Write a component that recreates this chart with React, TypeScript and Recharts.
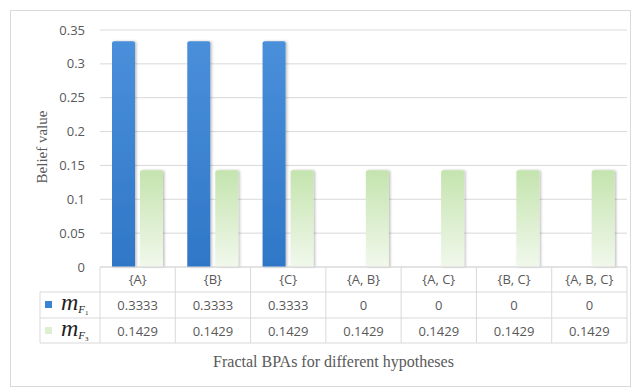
import { BarChart, Bar, XAxis, YAxis, CartesianGrid, Label } from 'recharts';

const hypotheses = ['{A}', '{B}', '{C}', '{A, B}', '{A, C}', '{B, C}', '{A, B, C}'];
const mF1 = [0.3333, 0.3333, 0.3333, 0, 0, 0, 0];
const mF3 = [0.1429, 0.1429, 0.1429, 0.1429, 0.1429, 0.1429, 0.1429];
const yTicks = [0, 0.05, 0.1, 0.15, 0.2, 0.25, 0.3, 0.35];

const data = hypotheses.map((h, i) => ({ name: h, f1: mF1[i], f3: mF3[i] }));

// plot geometry, used by the data table drawn under the axis
const PLOT_LEFT = 100;
const PLOT_RIGHT = 627;
const PLOT_BOTTOM = 267;
const BAND = (PLOT_RIGHT - PLOT_LEFT) / hypotheses.length;
const ROW1 = 292;
const ROW2 = 318;
const ROW3 = 343;
const TABLE_LEFT = 40;
const LINE = '#d9d9d9';
const TEXT = '#595959';
const SANS = '"Open Sans", sans-serif';
const SERIF = '"Liberation Serif", "Times New Roman", serif';

function SeriesName({ y, sub }: { y: number; sub: string }) {
  return (
    <text x={61} y={y} fill="#222" fontFamily={SERIF} fontStyle="italic">
      <tspan fontSize={24}>m</tspan>
      <tspan fontSize={11} dy={3}>F</tspan>
      <tspan fontSize={7} fontStyle="normal" dy={2}>{sub}</tspan>
    </text>
  );
}

function TableTick(props: any) {
  const { x, payload, index } = props;
  const left = x - BAND / 2;
  const right = x + BAND / 2;
  const fmt = (v: number) => String(v);
  return (
    <g>
      {index === 0 && (
        <g>
          <line x1={left} x2={left} y1={PLOT_BOTTOM} y2={ROW3} stroke={LINE} />
          <line x1={TABLE_LEFT} x2={TABLE_LEFT} y1={ROW1} y2={ROW3} stroke={LINE} />
          <line x1={TABLE_LEFT} x2={PLOT_RIGHT} y1={ROW1} y2={ROW1} stroke={LINE} />
          <line x1={TABLE_LEFT} x2={PLOT_RIGHT} y1={ROW2} y2={ROW2} stroke={LINE} />
          <line x1={TABLE_LEFT} x2={PLOT_RIGHT} y1={ROW3} y2={ROW3} stroke={LINE} />
          <rect x={45} y={301} width={7} height={7} fill="#3a82d2" />
          <rect x={45} y={327} width={7} height={7} fill="#dcefd0" />
          <SeriesName y={310} sub="1" />
          <SeriesName y={336} sub="3" />
        </g>
      )}
      <line x1={right} x2={right} y1={PLOT_BOTTOM} y2={ROW3} stroke={LINE} />
      <g fontFamily={SANS} fontSize={13} fill={TEXT} textAnchor="middle">
        <text x={x} y={284}>{payload.value}</text>
        <text x={x} y={310}>{fmt(mF1[index])}</text>
        <text x={x} y={336}>{fmt(mF3[index])}</text>
      </g>
    </g>
  );
}

export default function App() {
  return (
    <div style={{ position: 'absolute', left: 0, top: 0, width: 643, height: 390, background: '#fff' }}>
      <div
        style={{
          position: 'absolute',
          left: 10,
          top: 10,
          width: 621,
          height: 377,
          border: `1px solid ${LINE}`,
          boxSizing: 'border-box',
        }}
      />
      <BarChart
        width={643}
        height={390}
        data={data}
        margin={{ top: 30, right: 16, bottom: 10, left: 10 }}
        barSize={23}
        barGap={5}
        style={{ position: 'absolute', left: 0, top: 0 }}
      >
        <defs>
          <linearGradient id="blueFill" x1="0" y1="0" x2="0" y2="1">
            <stop offset="0%" stopColor="#4a8fda" />
            <stop offset="100%" stopColor="#2f77c7" />
          </linearGradient>
          <linearGradient id="greenFill" x1="0" y1="0" x2="0" y2="1">
            <stop offset="0%" stopColor="#c4e4ae" />
            <stop offset="100%" stopColor="#f1f8ec" />
          </linearGradient>
          <filter id="barShadow" x="-20%" y="-5%" width="150%" height="110%">
            <feDropShadow dx={1.5} dy={0} stdDeviation={1} floodColor="#000" floodOpacity={0.25} />
          </filter>
        </defs>
        <CartesianGrid vertical={false} stroke={LINE} />
        <XAxis
          dataKey="name"
          height={113}
          axisLine={{ stroke: LINE }}
          tickLine={false}
          interval={0}
          tick={<TableTick />}
        >
          <Label
            content={() => (
              <text
                x={(TABLE_LEFT + PLOT_RIGHT) / 2}
                y={367}
                textAnchor="middle"
                fontFamily={SERIF}
                fontSize={16}
                fill={TEXT}
              >
                Fractal BPAs for different hypotheses
              </text>
            )}
          />
        </XAxis>
        <YAxis
          width={90}
          domain={[0, 0.35]}
          ticks={yTicks}
          axisLine={false}
          tickLine={false}
          tickMargin={9}
          tick={{ fontFamily: SANS, fontSize: 13, fill: TEXT }}
        >
          <Label
            content={() => (
              <text
                x={47}
                y={147}
                transform="rotate(-90 47 147)"
                textAnchor="middle"
                fontFamily={SERIF}
                fontSize={15}
                fill={TEXT}
              >
                Belief value
              </text>
            )}
          />
        </YAxis>
        <Bar dataKey="f1" name="mF1" fill="url(#blueFill)" filter="url(#barShadow)" radius={[2, 2, 0, 0]} isAnimationActive={false} />
        <Bar dataKey="f3" name="mF3" fill="url(#greenFill)" filter="url(#barShadow)" radius={[2, 2, 0, 0]} isAnimationActive={false} />
      </BarChart>
    </div>
  );
}
